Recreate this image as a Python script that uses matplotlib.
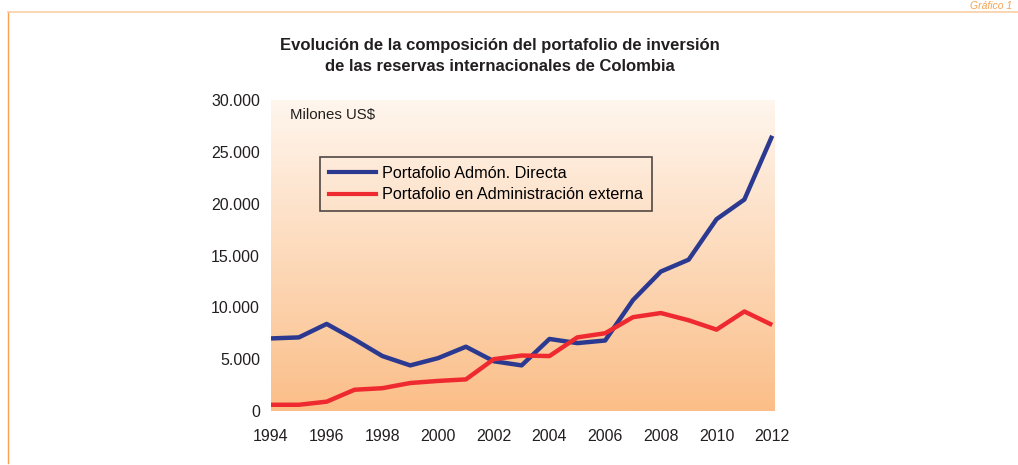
import numpy as np
import matplotlib.pyplot as plt
from matplotlib.lines import Line2D
from matplotlib.ticker import FuncFormatter

years = list(range(1994, 2013))
directa = [7000, 7100, 8400, 6900, 5300, 4400, 5100, 6200, 4800, 4400,
           6950, 6550, 6800, 10700, 13450, 14600, 18500, 20400, 26550]
externa = [600, 600, 900, 2050, 2200, 2700, 2900, 3050, 5000, 5350,
           5300, 7100, 7500, 9050, 9450, 8750, 7850, 9600, 8300]
labels = ["Portafolio Admón. Directa", "Portafolio en Administración externa"]
yticks = [0, 5000, 10000, 15000, 20000, 25000, 30000]
xticks = list(range(1994, 2013, 2))

plt.rcParams['font.family'] = ['Liberation Sans', 'DejaVu Sans']

W, H = 1018, 465
fig = plt.figure(figsize=(W / 100, H / 100), dpi=100)
ax = fig.add_axes([271 / W, (H - 411) / H, (775 - 271) / W, (411 - 100) / H])

# gradient background, light at top, orange at bottom
top = np.array([255, 246, 238]) / 255
bot = np.array([251, 190, 136]) / 255
t = np.linspace(0, 1, 256)[:, None]
grad = top + (bot - top) * t
ax.imshow(grad[:, None, :], extent=[1994, 2012.1, 0, 30000], aspect='auto', zorder=0)

ax.plot(years, directa, color='#2B3990', lw=3.2, zorder=3, solid_capstyle='butt')
ax.plot(years, externa, color='#EE2A30', lw=3.2, zorder=3, solid_capstyle='butt')

ax.set_xlim(1994, 2012.1)
ax.set_ylim(0, 30000)
ax.set_xticks(xticks)
ax.set_yticks(yticks)
ax.yaxis.set_major_formatter(FuncFormatter(lambda v, p: f"{int(v):,}".replace(",", ".")))
ax.tick_params(length=0, labelsize=11.5, colors='#231F20')
ax.tick_params(axis='x', pad=13)
ax.tick_params(axis='y', pad=8)
for s in ax.spines.values():
    s.set_visible(False)

ax.text(0.037, 0.975, "Milones US$", transform=ax.transAxes, fontsize=10.8,
        va='top', ha='left', color='#231F20')

handles = [Line2D([], [], color='#2B3990', lw=3),
           Line2D([], [], color='#EE2A30', lw=3)]
leg = ax.legend(handles, labels, loc='upper left',
                bbox_to_anchor=((320 - 271) / 504, (411 - 157) / 311),
                frameon=True, fancybox=False, fontsize=11.7, handlelength=2.9,
                handletextpad=0.35, borderpad=0.55, labelspacing=0.4, borderaxespad=0)
leg.get_frame().set_edgecolor('#231F20')
leg.get_frame().set_facecolor('none')
leg.get_frame().set_linewidth(1.2)

fig.text(500 / W, 1 - 56 / H, "Evolución de la composición del portafolio de inversión\n"
         "de las reservas internacionales de Colombia",
         ha='center', va='center', fontsize=12, fontweight='bold',
         family=['Liberation Sans Narrow', 'Liberation Sans'], linespacing=1.45,
         color='#231F20')

# page frame lines
fig.add_artist(Line2D([8 / W, 8 / W], [1 - 12 / H, 1 - 463 / H], transform=fig.transFigure,
                      color='#F5A352', lw=1))
fig.add_artist(Line2D([8 / W, 1], [1 - 12 / H, 1 - 12 / H], transform=fig.transFigure,
                      color='#F9CFA6', lw=1.2))
fig.text(1012 / W, 1 - 1 / H, "Gráfico 1", ha='right', va='top', fontsize=7.5,
         style='italic', color='#F5A352')

fig.savefig("out.png", dpi=100)
